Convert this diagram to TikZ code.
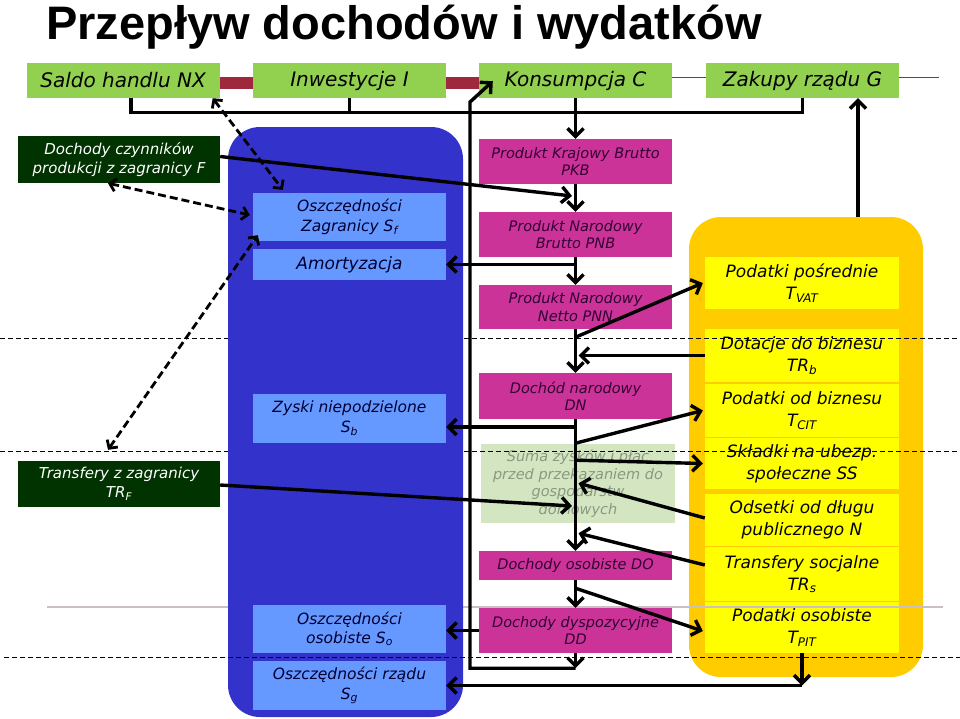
\documentclass[tikz,border=0pt]{standalone}
\usepackage{fontspec}
\setmainfont{DejaVu Sans}
\newfontfamily\titlefont{Liberation Sans}
\usepackage{xcolor}
\definecolor{topgreen}{HTML}{92D050}
\definecolor{barred}{HTML}{A0283C}
\definecolor{abroad}{HTML}{003300}
\definecolor{savblue}{HTML}{3333CC}
\definecolor{savsoft}{HTML}{6699FF}
\definecolor{savink}{HTML}{000033}
\definecolor{prodpink}{HTML}{CC3399}
\definecolor{prodink}{HTML}{330033}
\definecolor{sumsoft}{HTML}{D3E6C1}
\definecolor{sumink}{HTML}{8A9980}
\definecolor{taxorange}{HTML}{FFCC00}
\definecolor{taxyellow}{HTML}{FFFF00}
\definecolor{rulegray}{HTML}{CBBFC6}
\usetikzlibrary{arrows.meta,calc}

\begin{document}
\begin{tikzpicture}[x=1pt,y=-1pt,
  spend/.style={rectangle,fill=topgreen,text=black,minimum width=193pt,minimum height=35pt,
    inner sep=0pt,font=\fontsize{20}{22}\selectfont\itshape},
  abr/.style={rectangle,fill=abroad,text=white,minimum width=202pt,inner sep=0pt,align=center,
    font=\fontsize{15}{19}\selectfont\itshape},
  sav/.style={rectangle,fill=savsoft,text=savink,minimum width=193pt,inner sep=0pt,align=center,
    font=\fontsize{15.5}{19.5}\selectfont\itshape},
  prod/.style={rectangle,fill=prodpink,text=prodink,minimum width=193pt,inner sep=0pt,align=center,
    font=\fontsize{14.5}{17.5}\selectfont\itshape},
  tax/.style={rectangle,fill=taxyellow,text=black,minimum width=194pt,inner sep=0pt,align=center,
    font=\fontsize{17}{22}\selectfont\itshape},
  panel/.style={rectangle,rounded corners=32pt,inner sep=0pt},
  flow/.style={-{Straight Barb[length=8pt,width=16pt]},line width=3.4pt},
  link/.style={line width=3.4pt},
  dashflow/.style={{Straight Barb[length=6pt,width=13pt]}-{Straight Barb[length=6pt,width=13pt]},
    line width=2.8pt,dash pattern=on 8pt off 4pt},
  guide/.style={line width=1pt,dash pattern=on 5pt off 3pt}]
  \useasboundingbox (0,0) rectangle (960,718);
  \node[anchor=base west,inner sep=0pt,font=\titlefont\bfseries\fontsize{47}{50}\selectfont] (title) at (46,39) {Przepływ dochodów i wydatków};
  % government side
  \node[panel,fill=taxorange,minimum width=234pt,minimum height=460pt] (taxp) at (806,447) {};
  \node[tax,minimum height=52pt] (vat) at (802,283) {Podatki pośrednie\\T\textsubscript{VAT}};
  \node[tax,minimum height=53pt] (trb) at (802,355.5) {Dotacje do biznesu\\TR\textsubscript{b}};
  \node[tax,minimum height=53pt] (cit) at (802,410.5) {Podatki od biznesu\\T\textsubscript{CIT}};
  \node[tax,minimum height=51pt] (ss) at (802,463.5) {Składki na ubezp.\\społeczne SS};
  \node[tax,minimum height=52pt] (nn) at (802,520) {Odsetki od długu\\publicznego N};
  \node[tax,minimum height=54pt] (trs) at (802,574) {Transfery socjalne\\TR\textsubscript{s}};
  \node[tax,minimum height=51pt] (pit) at (802,627.5) {Podatki osobiste\\T\textsubscript{PIT}};
  % product and income column
  \node[prod,minimum height=45pt] (pkb) at (575.5,161.5) {Produkt Krajowy Brutto\\PKB};
  \node[prod,minimum height=45pt] (pnb) at (575.5,234.5) {Produkt Narodowy\\Brutto PNB};
  \node[prod,minimum height=44pt] (pnn) at (575.5,307) {Produkt Narodowy\\Netto PNN};
  \node[prod,minimum height=46pt] (dn) at (575.5,396) {Dochód narodowy\\DN};
  \node[prod,fill=sumsoft,text=sumink,minimum width=194pt,minimum height=79pt] (suma) at (578,483.5) {Suma zysków i płac\\przed przekazaniem do\\gospodarstw\\domowych};
  \node[prod,minimum height=29pt] (dos) at (575.5,565.5) {Dochody osobiste DO};
  \node[prod,minimum height=45pt] (dd) at (575.5,630.5) {Dochody dyspozycyjne\\DD};
  % spending row
  \node[spend] (nx) at (123,80.5) {Saldo handlu NX};
  \node[spend] (inw) at (349.5,80.5) {Inwestycje I};
  \node[spend] (kons) at (575.5,80.5) {Konsumpcja C};
  \node[spend] (zak) at (802.5,80.5) {Zakupy rządu G};
  \fill[barred] ($(nx.east)+(0,-3.5)$) rectangle ($(inw.west)+(0,8.5)$);
  \fill[barred] ($(inw.east)+(0,-3.5)$) rectangle ($(kons.west)+(0,8.5)$);
  \draw[barred,line width=1pt] ($(kons.east)+(0,-3.5)$) -- ($(zak.west)+(0,-3.5)$);
  \draw[barred,line width=1pt] ($(zak.east)+(0,-3.5)$) -- ++(40,0);
  % abroad
  \node[abr,minimum height=47pt] (dcz) at (119,159.5) {Dochody czynników\\produkcji z zagranicy F};
  \node[abr,minimum height=46pt] (trf) at (119,484) {Transfery z zagranicy\\TR\textsubscript{F}};
  % guide lines
  \draw[rulegray,line width=1.5pt] (47,607) -- (943,607);
  \draw[guide] (0,338) -- (960,338); \draw[guide] (0,451) -- (960,451);
  % savings side
  \node[panel,fill=savblue,minimum width=235pt,minimum height=590pt] (savp) at (345.5,422) {};
  \node[sav,minimum height=48pt] (sf) at (349.5,217) {Oszczędności\\Zagranicy S\textsubscript{f}};
  \node[sav,minimum height=31pt,font=\fontsize{17}{20}\selectfont\itshape] (amo) at (349.5,264.5) {Amortyzacja};
  \node[sav,minimum height=49pt] (sb) at (349.5,418.5) {Zyski niepodzielone\\S\textsubscript{b}};
  \node[sav,minimum height=48pt] (so) at (349.5,629) {Oszczędności\\osobiste S\textsubscript{o}};
  \node[sav,minimum height=49pt] (sg) at (349.5,685.5) {Oszczędności rządu\\S\textsubscript{g}};
  \draw[guide] (4,657) -- (960,657);
  % spending into PKB
  \draw[link] ([xshift=8pt]nx.south) -- ++(0,14) -| (zak.south);
  \draw[link] (inw.south) -- ++(0,14);
  \draw[flow] (kons.south) -- (pkb.north);
  \draw[flow] (pkb.south) -- (pnb.north); \draw[flow] (pnb.south) -- (pnn.north);
  \draw[flow] (pnn.south) -- (dn.north); \draw[flow] (dn.south) -- (dos.north);
  \draw[flow] (dos.south) -- (dd.north);
  % back to consumption
  \coordinate (ret) at (470,102);
  \draw[flow] (dd.south) -- ++(0,15);
  \draw[flow] ($(dd.south)+(0,15)$) -| (ret) -- ([xshift=14pt,yshift=17pt]kons.south west);
  % abroad links
  \coordinate (fin) at (572,196);
  \coordinate (trin) at (572,506);
  \draw[flow] ([yshift=3pt]dcz.east) -- (fin);
  \draw[flow] ([yshift=-1pt]trf.east) -- (trin);
  \draw[dashflow] ([xshift=-7pt]nx.south east) -- ([xshift=30pt,yshift=3pt]sf.north west);
  \draw[dashflow] ([xshift=-11pt]dcz.south) -- ([xshift=-3pt,yshift=2pt]sf.west);
  \draw[dashflow] ([xshift=-11pt,yshift=11pt]trf.north) -- ([xshift=5pt,yshift=6pt]sf.south west);
  % savings links
  \coordinate (sbin) at ([yshift=-8.5pt]sb.east);
  \draw[flow] (pnb.south |- amo.east) -- (amo.east);
  \draw[flow] (dn.south |- sbin) -- (sbin);
  \draw[flow] (dd.west) -- (dd.west -| so.east);
  % government links
  \draw[flow] ($(pnn.south)+(0,8)$) -- ([xshift=-2pt]vat.west);
  \draw[flow] (trb.west) -- ($(pnn.south |- trb.west)+(3,0)$);
  \draw[flow] ($(dn.south)+(0,24)$) -- ([xshift=-2pt]cit.west);
  \draw[flow] ($(dn.south)+(0,41)$) -- ([xshift=-2pt]ss.west);
  \draw[flow] ([yshift=2pt]nn.west) -- ($(dn.south)+(3,64)$);
  \draw[flow] ([yshift=9pt]trs.west) -- ($(dn.south)+(3,114)$);
  \draw[flow] ($(dos.south)+(0,8)$) -- ([xshift=-2pt,yshift=-3.5pt]pit.west);
  \draw[flow] (pit.south) -- (pit.south |- sg.east); \draw[flow] (pit.south |- sg.east) -- (sg.east);
  \coordinate (gup) at ([xshift=52pt]taxp.north);
  \draw[flow] (gup) -- (gup |- zak.south);
\end{tikzpicture}
\end{document}
